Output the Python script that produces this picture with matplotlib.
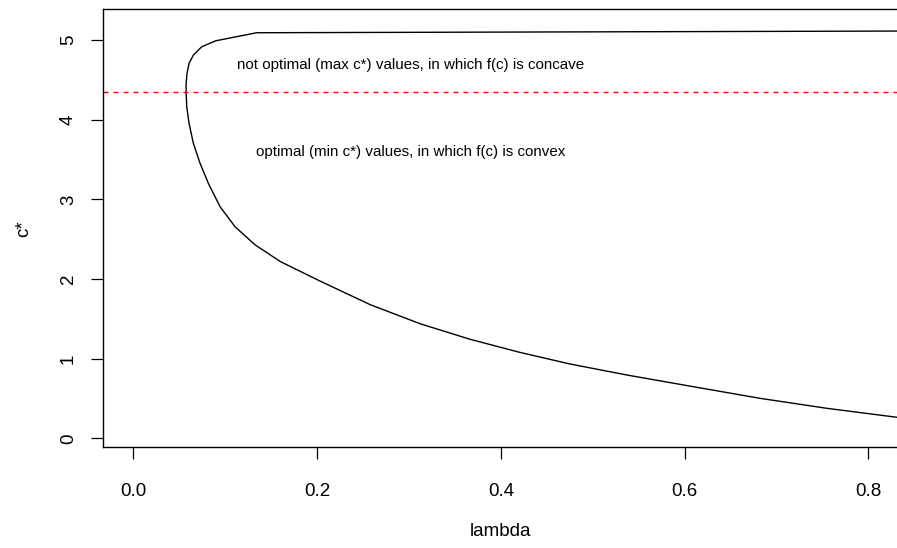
#! /usr/bin/env python3

import numpy as np
import matplotlib
matplotlib.use('Agg')
import matplotlib.pyplot as plt

plt.rcParams.update({'font.family': ['Liberation Sans', 'DejaVu Sans'],
                     'font.size': 13.5})

# c* against lambda (upper branch -> vertex -> lower branch)
lam = [0.8312, 0.1343, 0.0897, 0.0744, 0.0653, 0.0606, 0.0584, 0.0574,
       0.0574, 0.0581, 0.0606, 0.0653, 0.0726, 0.0816, 0.0944, 0.1107,
       0.1325, 0.1600, 0.2033, 0.2577, 0.3121, 0.3665, 0.4209, 0.4753,
       0.5370, 0.6095, 0.6821, 0.7547, 0.8312]
c_star = [5.113, 5.092, 4.991, 4.916, 4.812, 4.708, 4.582, 4.457,
          4.344, 4.163, 3.955, 3.704, 3.453, 3.202, 2.908, 2.657,
          2.430, 2.220, 1.975, 1.680, 1.440, 1.245, 1.080, 0.935,
          0.797, 0.650, 0.504, 0.379, 0.266]
threshold = 4.35

x_ticks = [0.0, 0.2, 0.4, 0.6, 0.8]
y_ticks = [0, 1, 2, 3, 4, 5]

fig = plt.figure(figsize=(8.97, 5.48), dpi=100)
ax = fig.add_axes([0.1152, 0.1834, 0.8848, 0.8002])

ax.plot(lam, c_star, color='black', lw=1.0)
ax.axhline(threshold, color='red', lw=1.0, dashes=(3.6, 3.6))

ax.text(0.302, 4.69, 'not optimal (max c*) values, in which f(c) is concave',
        ha='center', va='center', fontsize=10.9)
ax.text(0.302, 3.60, 'optimal (min c*) values, in which f(c) is convex',
        ha='center', va='center', fontsize=10.9)

ax.set_xlim(-0.0327, 0.8312)
ax.set_ylim(-0.113, 5.39)
ax.spines['right'].set_visible(False)
for s in ax.spines.values():
    s.set_linewidth(1.0)

ax.set_xticks(x_ticks, [f'{v:.1f}' for v in x_ticks])
ax.set_yticks(y_ticks, [str(v) for v in y_ticks])
ax.tick_params(axis='both', direction='out', length=8.6, width=0.9,
               labelsize=13.5)
ax.tick_params(axis='x', pad=17)
ax.tick_params(axis='y', pad=10.4)
for t in ax.get_yticklabels():
    t.set_rotation(90)
    t.set_va('center')

ax.set_xlabel('lambda', fontsize=13.5, labelpad=16.5)
ax.set_ylabel('c*', fontsize=13.5, labelpad=20)

plt.savefig('out.png', dpi=100)
